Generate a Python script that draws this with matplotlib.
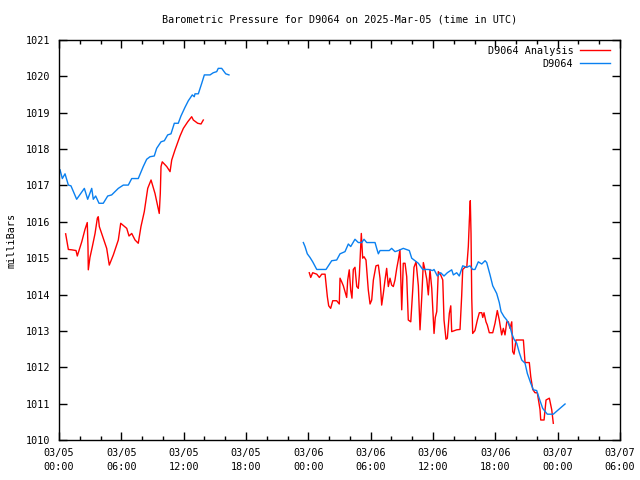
import numpy as np
import matplotlib
matplotlib.use("Agg")
import matplotlib.pyplot as plt
from matplotlib.ticker import MultipleLocator

# hours since 2025-03-05 00:00 UTC
obs_early_h = [0.10, 0.32, 0.58, 0.90, 1.15, 1.70, 2.44, 2.76, 3.15, 3.30, 3.53, 3.85, 4.26, 4.69, 5.07,
               5.71, 6.19, 6.67, 7.00, 7.63, 8.11, 8.44, 8.76, 9.17, 9.40, 9.82, 10.14, 10.46, 10.78,
               11.10, 11.48, 11.74, 12.13, 12.45, 12.83, 13.02, 13.09, 13.41, 13.74, 13.99, 14.54,
               14.85, 15.18, 15.33, 15.66, 16.05, 16.36]
obs_early_v = [1017.43, 1017.19, 1017.32, 1017.01, 1016.99, 1016.62, 1016.92, 1016.62, 1016.92, 1016.62,
               1016.71, 1016.51, 1016.51, 1016.71, 1016.74, 1016.92, 1017.01, 1017.01, 1017.19, 1017.19,
               1017.52, 1017.72, 1017.79, 1017.81, 1018.02, 1018.20, 1018.23, 1018.39, 1018.42, 1018.71,
               1018.71, 1018.91, 1019.15, 1019.33, 1019.49, 1019.44, 1019.52, 1019.52, 1019.81, 1020.04,
               1020.04, 1020.10, 1020.13, 1020.22, 1020.22, 1020.07, 1020.04]

obs_late_h = [23.52, 23.68, 23.90, 24.16, 24.42, 24.81, 25.70, 26.25, 26.73, 27.05, 27.53, 27.85, 28.08,
              28.49, 28.81, 29.14, 29.36, 29.62, 30.42, 30.58, 30.74, 30.90, 31.79, 32.02, 32.34, 32.66,
              33.14, 33.72, 33.95, 34.27, 34.59, 35.01, 35.55, 35.97, 36.10, 36.42, 36.74, 37.06, 37.38,
              37.80, 37.96, 38.28, 38.53, 38.86, 39.25, 39.56, 39.82, 40.04, 40.36, 40.69, 41.01, 41.17,
              41.49, 41.75, 42.13, 42.38, 42.55, 42.84, 43.10, 43.41, 43.58, 43.80, 44.06, 44.31, 44.54,
              44.86, 45.08, 45.41, 45.66, 45.98, 46.30, 46.56, 47.00, 47.58, 48.06, 48.71]
obs_late_v = [1015.43, 1015.32, 1015.12, 1015.02, 1014.90, 1014.69, 1014.69, 1014.93, 1014.95, 1015.12,
              1015.18, 1015.39, 1015.32, 1015.52, 1015.43, 1015.43, 1015.52, 1015.43, 1015.43, 1015.27,
              1015.12, 1015.21, 1015.21, 1015.27, 1015.18, 1015.21, 1015.27, 1015.21, 1015.00, 1014.93,
              1014.86, 1014.69, 1014.69, 1014.66, 1014.69, 1014.51, 1014.60, 1014.51, 1014.60, 1014.68,
              1014.54, 1014.60, 1014.51, 1014.79, 1014.75, 1014.79, 1014.69, 1014.69, 1014.90, 1014.84,
              1014.93, 1014.88, 1014.54, 1014.24, 1014.03, 1013.78, 1013.53, 1013.39, 1013.30, 1013.12,
              1012.93, 1012.77, 1012.66, 1012.40, 1012.20, 1012.11, 1011.83, 1011.56, 1011.38, 1011.36,
              1011.08, 1010.87, 1010.71, 1010.71, 1010.83, 1010.99]

ana_early_h = [0.64, 0.90, 1.22, 1.64, 1.76, 2.19, 2.50, 2.72, 2.79, 2.82, 2.98, 3.21, 3.47, 3.69, 3.78,
               3.88, 4.26, 4.59, 4.84, 5.23, 5.71, 5.94, 6.52, 6.74, 7.00, 7.32, 7.63, 7.89, 8.21, 8.54,
               8.86, 9.24, 9.65, 9.75, 9.82, 9.94, 10.37, 10.69, 10.85, 11.17, 11.65, 11.97, 12.39,
               12.77, 12.93, 13.35, 13.67, 13.89]
ana_early_v = [1015.67, 1015.24, 1015.23, 1015.21, 1015.06, 1015.45, 1015.79, 1015.98, 1015.32, 1014.68,
               1015.02, 1015.32, 1015.68, 1016.10, 1016.14, 1015.87, 1015.55, 1015.27, 1014.81, 1015.09,
               1015.50, 1015.96, 1015.82, 1015.61, 1015.68, 1015.50, 1015.41, 1015.87, 1016.28, 1016.92,
               1017.15, 1016.78, 1016.23, 1016.78, 1017.52, 1017.65, 1017.52, 1017.38, 1017.70, 1017.98,
               1018.36, 1018.57, 1018.75, 1018.89, 1018.80, 1018.71, 1018.69, 1018.80]

ana_late_h = [24.09, 24.23, 24.42, 24.81, 25.06, 25.29, 25.61, 25.70, 25.83, 25.96, 26.15, 26.35, 26.73,
              26.98, 27.05, 27.21, 27.37, 27.53, 27.69, 27.79, 27.94, 28.08, 28.20, 28.33, 28.49, 28.66,
              28.81, 28.91, 29.04, 29.10, 29.23, 29.36, 29.55, 29.77, 29.94, 30.10, 30.26, 30.51, 30.74,
              30.90, 31.06, 31.22, 31.38, 31.54, 31.70, 31.86, 32.02, 32.18, 32.34, 32.51, 32.66, 32.82,
              32.99, 33.14, 33.31, 33.47, 33.62, 33.86, 34.05, 34.17, 34.37, 34.59, 34.75, 34.92, 35.07,
              35.23, 35.40, 35.55, 35.71, 35.88, 36.10, 36.22, 36.36, 36.51, 36.74, 36.94, 37.06, 37.25,
              37.38, 37.57, 37.71, 37.80, 38.28, 38.60, 38.76, 38.86, 39.08, 39.25, 39.40, 39.50, 39.59,
              39.66, 39.73, 39.82, 40.04, 40.27, 40.46, 40.69, 40.79, 40.91, 41.10, 41.23, 41.42, 41.75,
              41.97, 42.19, 42.38, 42.61, 42.77, 42.93, 43.10, 43.25, 43.41, 43.58, 43.67, 43.80, 43.99,
              44.70, 44.86, 45.27, 45.41, 45.60, 45.82, 46.04, 46.30, 46.37, 46.69, 46.88, 47.20, 47.43,
              47.58]
ana_late_v = [1014.60, 1014.47, 1014.60, 1014.56, 1014.47, 1014.56, 1014.56, 1014.31, 1013.94, 1013.69,
              1013.62, 1013.83, 1013.83, 1013.74, 1014.45, 1014.35, 1014.24, 1014.08, 1013.92, 1014.40,
              1014.68, 1014.11, 1013.90, 1014.69, 1014.75, 1014.22, 1014.17, 1014.54, 1015.32, 1015.68,
              1015.00, 1015.04, 1014.95, 1014.13, 1013.74, 1013.85, 1014.40, 1014.79, 1014.81, 1014.45,
              1013.71, 1014.03, 1014.40, 1014.72, 1014.22, 1014.45, 1014.26, 1014.22, 1014.40, 1014.72,
              1014.95, 1015.23, 1013.58, 1014.86, 1014.86, 1014.49, 1013.30, 1013.25, 1014.13, 1014.75,
              1014.90, 1014.24, 1013.03, 1013.94, 1014.88, 1014.68, 1014.42, 1013.99, 1014.69, 1014.17,
              1012.93, 1013.37, 1013.53, 1014.63, 1014.54, 1014.40, 1013.30, 1012.77, 1012.80, 1013.48,
              1013.69, 1012.98, 1013.03, 1013.04, 1013.96, 1014.69, 1014.75, 1014.75, 1015.32, 1016.05,
              1016.58, 1015.68, 1013.90, 1012.93, 1013.01, 1013.30, 1013.50, 1013.50, 1013.37, 1013.50,
              1013.25, 1013.16, 1012.95, 1012.95, 1013.21, 1013.56, 1013.30, 1012.89, 1013.07, 1012.89,
              1013.25, 1013.25, 1013.07, 1013.25, 1012.43, 1012.36, 1012.75, 1012.75, 1012.13, 1012.13,
              1011.74, 1011.39, 1011.30, 1011.30, 1010.84, 1010.55, 1010.55, 1011.10, 1011.15, 1010.83,
              1010.46]

x_tick_labels = ["03/05\n00:00", "03/05\n06:00", "03/05\n12:00", "03/05\n18:00", "03/06\n00:00",
                 "03/06\n06:00", "03/06\n12:00", "03/06\n18:00", "03/07\n00:00", "03/07\n06:00"]

MONO = "DejaVu Sans Mono"
FS = 7.3
plt.rcParams["font.family"] = MONO
plt.rcParams["font.size"] = FS

fig = plt.figure(figsize=(6.4, 4.8), dpi=100)
ax = fig.add_axes([59 / 640, 40 / 480, 561 / 640, 400 / 480])

RED = "#ff0000"
BLUE = "#0a80f0"

ana_h = ana_early_h + [np.nan] + ana_late_h
ana_v = ana_early_v + [np.nan] + ana_late_v
obs_h = obs_early_h + [np.nan] + obs_late_h
obs_v = obs_early_v + [np.nan] + obs_late_v

ax.plot(ana_h, ana_v, color=RED, lw=1.0, label="D9064 Analysis")
ax.plot(obs_h, obs_v, color=BLUE, lw=1.0, label="D9064")

ax.set_xlim(0, 54)
ax.set_ylim(1010, 1021)
ax.set_xticks(np.arange(0, 55, 6))
ax.set_xticklabels(x_tick_labels, linespacing=1.45)
ax.xaxis.set_minor_locator(MultipleLocator(2))
ax.set_yticks(np.arange(1010, 1022, 1))
ax.tick_params(which="both", direction="in", top=True, right=True, width=1, colors="black",
               labelsize=FS, pad=6)
ax.tick_params(which="major", length=6)
ax.tick_params(which="minor", length=3)
for s in ax.spines.values():
    s.set_linewidth(1)

ax.set_ylabel("milliBars", fontsize=FS, labelpad=7)
fig.text(339.5 / 640, 1 - 19 / 480, "Barometric Pressure for D9064 on 2025-Mar-05 (time in UTC)",
         ha="center", va="center", fontsize=FS)

leg = ax.legend(loc="upper right", bbox_to_anchor=(0.982, 0.985), frameon=False, markerfirst=False,
                fontsize=FS, handlelength=2.9, handletextpad=0.7, borderaxespad=0.0, borderpad=0.0,
                labelspacing=0.3)
for t in leg.get_texts():
    t.set_ha("right")

fig.savefig("out.png", dpi=100)
